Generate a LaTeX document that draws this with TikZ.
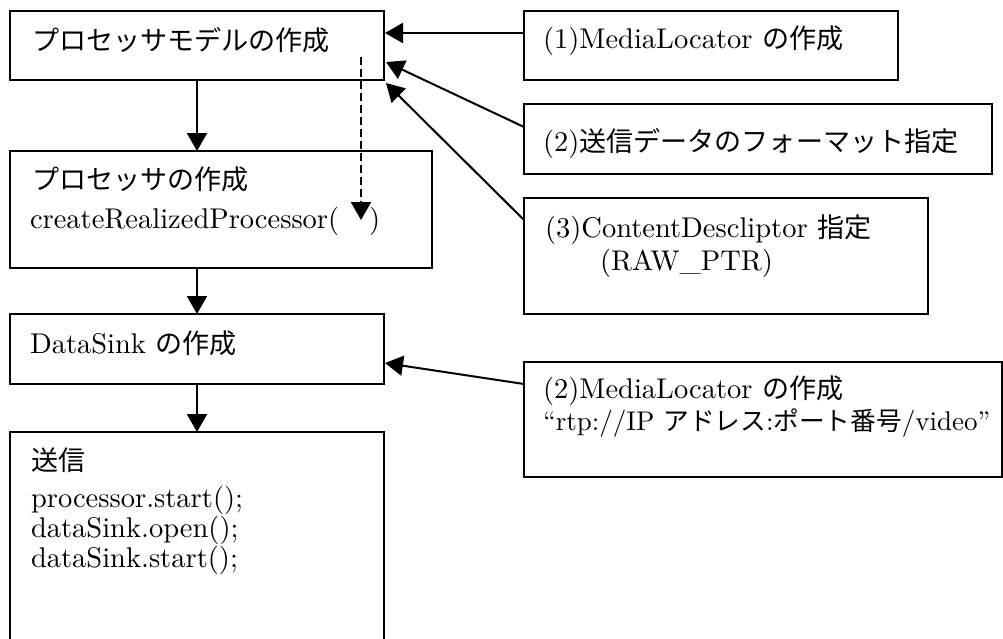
\documentclass[tikz,border=0pt]{standalone}
\usepackage{fontspec}
\setmainfont{lmroman10-regular.otf}
\newfontfamily\jp{Noto Sans CJK JP}[Scale=0.95]
\usetikzlibrary{arrows.meta,calc}
\tikzset{
  box/.style={draw, line width=2pt, rectangle, inner sep=0pt, outer sep=0pt, anchor=north west},
  txt/.style={anchor=base west, inner sep=0pt, outer sep=0pt, font=\fontsize{28.5}{30}\selectfont},
  smalltxt/.style={txt, font=\fontsize{27}{30}\selectfont},
  flow/.style={line width=2pt, -{Triangle[length=18pt,width=20pt]}},
  hint/.style={flow, dash pattern=on 8pt off 4pt},
}
\begin{document}
\begin{tikzpicture}[x=1pt, y=-1pt]
\useasboundingbox (0,0) rectangle (1003,638);
\clip (0,0) rectangle (1003,638);
\fill[white] (0,0) rectangle (1003,638);

% main flow boxes
\node[box, minimum width=374pt, minimum height=69pt]  (A) at (10,11)  {};
\node[box, minimum width=422pt, minimum height=117pt] (B) at (10,151) {};
\node[box, minimum width=374pt, minimum height=70pt]  (C) at (10,314) {};
\node[box, minimum width=374pt, minimum height=228pt] (E) at (10,432) {};

% side boxes
\node[box, minimum width=374pt, minimum height=69pt]  (M1) at (524,11)  {};
\node[box, minimum width=468pt, minimum height=70pt]  (F2) at (524,104) {};
\node[box, minimum width=404pt, minimum height=116pt] (D3) at (524,198) {};
\node[box, minimum width=478pt, minimum height=115pt] (M2) at (524,362) {};

% labels
\node[txt] (tA)  at (32,50)  {\jp プロセッサモデルの作成};
\node[txt] (tB1) at (32,189) {\jp プロセッサの作成};
\node[txt] (tB2) at (30,228) {createRealizedProcessor(\hspace{30pt})};
\node[txt] (tC)  at (30,353) {DataSink {\jp の作成}};
\node[txt] (tE1) at (31,470) {\jp 送信};
\node[txt] (tE2) at (31,507) {processor.start();};
\node[txt] (tE3) at (31,537) {dataSink.open();};
\node[txt] (tE4) at (31,567) {dataSink.start();};

\node[txt] (tM1)  at (543,48)  {(1)MediaLocator {\jp の作成}};
\node[txt] (tF2)  at (543,151) {(2){\jp 送信データのフォーマット指定}};
\node[txt] (tD31) at (545,237) {(3)ContentDescliptor {\jp 指定}};
\node[txt] (tD32) at (600,270) {(RAW\_PTR)};
\node[txt] (tM21) at (543,398) {(2)MediaLocator {\jp の作成}};
\node[smalltxt] (tM22) at (543,430) {“rtp://IP {\jp アドレス}:{\jp ポート番号}/video”};

% flow connectors
\draw[flow] (A.south) -- (A.south |- B.north);
\draw[flow] (A.south |- B.south) -- (A.south |- C.north);
\draw[flow] (C.south) -- (C.south |- E.north);

% inputs to the processor model
\draw[flow] ($(M1.north west)+(0,22)$) -- ($(A.north east)+(1,22)$);
\draw[flow] ($(F2.north west)+(0,23)$) -- ($(A.north east)+(2,51)$);
\draw[flow] ($(D3.north west)+(0,22)$) -- ($(A.south east)+(2,3)$);

% input to the data sink
\draw[flow] ($(M2.north west)+(0,22)$) -- ($(C.south east)+(1,-21)$);

% realized processor comes from the model
\draw[hint] ($(A.north west)+(351,46)$) -- ($(B.north west)+(351,69)$);
\end{tikzpicture}
\end{document}
